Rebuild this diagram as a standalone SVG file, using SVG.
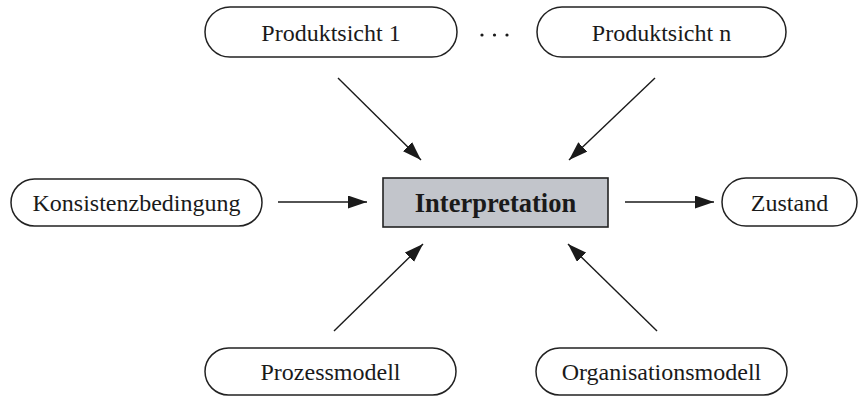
<svg xmlns="http://www.w3.org/2000/svg" width="866" height="396" viewBox="0 0 866 396">
  <defs>
    <marker id="arrow" markerUnits="userSpaceOnUse" markerWidth="20" markerHeight="14" refX="19" refY="6.5" orient="auto">
      <path d="M0,0 L19,6.5 L0,13 z" fill="#1a1a1a"/>
    </marker>
    <style>
      .term { fill: #ffffff; stroke: #222222; stroke-width: 1.5; }
      .core { fill: #c2c5cb; stroke: #222222; stroke-width: 1.6; }
      .lbl { font-family: "Liberation Serif", "Times New Roman", serif; font-size: 24px; fill: #1a1a1a; text-anchor: middle; }
      .lblb { font-family: "Liberation Serif", "Times New Roman", serif; font-size: 26.5px; font-weight: bold; fill: #1a1a1a; text-anchor: middle; }
      .conn { stroke: #1a1a1a; stroke-width: 1.4; fill: none; marker-end: url(#arrow); }
    </style>
  </defs>

  <rect width="866" height="396" fill="#ffffff"/>

  <g id="connectors">
    <line class="conn" x1="338" y1="78" x2="421" y2="160"/>
    <line class="conn" x1="655" y1="78" x2="569" y2="160"/>
    <line class="conn" x1="278" y1="202" x2="367" y2="202"/>
    <line class="conn" x1="625" y1="202" x2="714" y2="202"/>
    <line class="conn" x1="334" y1="331" x2="423" y2="244"/>
    <line class="conn" x1="657" y1="331" x2="568" y2="244"/>
  </g>

  <g id="produktsicht-1">
    <rect class="term" x="205" y="7" width="252" height="50" rx="25"/>
    <text class="lbl" x="331" y="41">Produktsicht 1</text>
  </g>

  <g id="ellipsis">
    <circle cx="482" cy="35" r="1.6" fill="#1a1a1a"/>
    <circle cx="494.5" cy="35" r="1.6" fill="#1a1a1a"/>
    <circle cx="507" cy="35" r="1.6" fill="#1a1a1a"/>
  </g>

  <g id="produktsicht-n">
    <rect class="term" x="537" y="7" width="249" height="50" rx="25"/>
    <text class="lbl" x="661.5" y="41">Produktsicht n</text>
  </g>

  <g id="konsistenzbedingung">
    <rect class="term" x="11" y="179" width="251" height="47" rx="23.5"/>
    <text class="lbl" x="136.5" y="210.5">Konsistenzbedingung</text>
  </g>

  <g id="interpretation">
    <rect class="core" x="383" y="178" width="225" height="49"/>
    <text class="lblb" x="495.5" y="211.5">Interpretation</text>
  </g>

  <g id="zustand">
    <rect class="term" x="722" y="178" width="135" height="48" rx="24"/>
    <text class="lbl" x="789.5" y="210.5">Zustand</text>
  </g>

  <g id="prozessmodell">
    <rect class="term" x="205" y="348" width="251" height="47" rx="23.5"/>
    <text class="lbl" x="330.5" y="380">Prozessmodell</text>
  </g>

  <g id="organisationsmodell">
    <rect class="term" x="536" y="348" width="251" height="47" rx="23.5"/>
    <text class="lbl" x="661.5" y="380">Organisationsmodell</text>
  </g>
</svg>
